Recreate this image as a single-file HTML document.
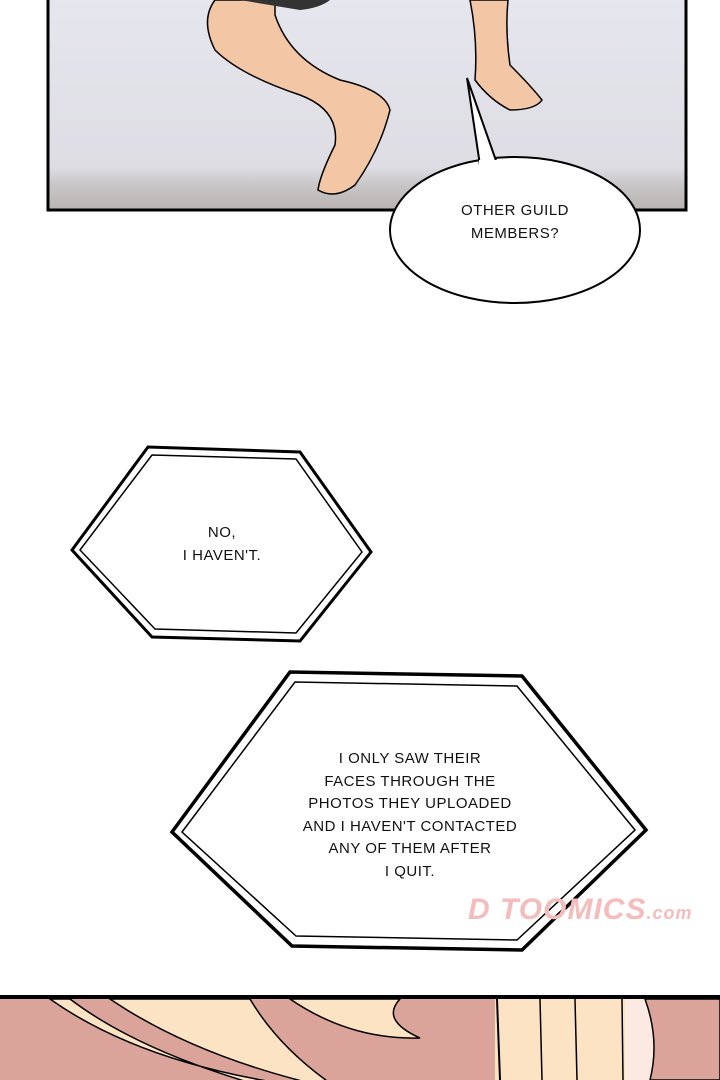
<!DOCTYPE html>
<html><head><meta charset="utf-8"><style>
html,body{margin:0;padding:0;background:#fff;}
body{width:720px;height:1080px;position:relative;overflow:hidden;font-family:"Liberation Sans",sans-serif;}
.t{position:absolute;text-align:center;font-size:15px;line-height:23px;color:#111;letter-spacing:0.5px;}
</style></head><body>
<svg width="720" height="1080" style="position:absolute;left:0;top:0">
<defs>
<linearGradient id="sheet" x1="0" y1="0" x2="0" y2="1">
<stop offset="0" stop-color="#e6e6ee"/><stop offset="0.8" stop-color="#dedde4"/><stop offset="0.88" stop-color="#c9c6c8"/><stop offset="1" stop-color="#b9b4b2"/>
</linearGradient>
</defs>
<rect x="48" y="-5" width="638" height="215" fill="url(#sheet)" stroke="#000" stroke-width="3"/>
<!-- legs -->
<path d="M215,0 Q200,20 215,50 Q240,75 300,95 Q340,110 335,145 Q320,175 318,190 Q335,200 355,185 Q380,150 390,110 Q385,90 340,80 Q290,60 275,15 L275,0 Z" fill="#f3c6a6" stroke="#000" stroke-width="1.5"/>
<path d="M470,0 Q478,40 475,80 Q490,100 510,110 Q535,110 542,100 Q530,85 510,65 Q505,30 508,0 Z" fill="#f3c6a6" stroke="#000" stroke-width="1.5"/>
<path d="M240,0 L330,0 Q320,8 300,10 Z" fill="#333"/>
<!-- speech bubble -->
<ellipse cx="515" cy="230" rx="125" ry="73" fill="#fff" stroke="#000" stroke-width="2"/>
<path d="M481,172 L467,78 L500,172 Z" fill="#fff" stroke="#000" stroke-width="2"/>
<rect x="479" y="160" width="24" height="14" fill="#fff"/>
<!-- hex 1 -->
<polygon points="72,550 148,447 300,452 371,552 300,641 152,637" fill="#fff" stroke="#000" stroke-width="3"/>
<polygon points="80,550 152,455 296,459 362,552 296,633 155,629" fill="none" stroke="#000" stroke-width="1.5"/>
<!-- hex 2 -->
<polygon points="172,832 290,672 522,676 646,830 522,950 292,946" fill="#fff" stroke="#000" stroke-width="3.5"/>
<polygon points="182,832 295,682 517,686 635,830 517,940 296,936" fill="none" stroke="#000" stroke-width="1.5"/>
<!-- bottom panel -->
<rect x="0" y="997" width="720" height="90" fill="#dba49a"/>
<path d="M50,999 Q150,1070 330,1090 L310,1099 Q150,1060 70,999 Z" fill="#fce3c3" stroke="#000" stroke-width="1.5"/>
<path d="M110,999 Q200,1060 340,1090 Q280,1050 250,999 Z" fill="#fce3c3" stroke="#000" stroke-width="1.5"/>
<path d="M290,999 Q350,1040 420,1038 Q380,1020 400,999 Z" fill="#fce3c3" stroke="#000" stroke-width="1.5"/>
<rect x="495" y="999" width="150" height="90" fill="#fce3c3"/>
<line x1="497" y1="999" x2="500" y2="1080" stroke="#000" stroke-width="2"/>
<line x1="540" y1="999" x2="542" y2="1080" stroke="#000" stroke-width="1.5"/>
<line x1="575" y1="999" x2="577" y2="1080" stroke="#000" stroke-width="1.5"/>
<line x1="622" y1="999" x2="623" y2="1080" stroke="#000" stroke-width="1.5"/>
<rect x="625" y="999" width="95" height="90" fill="#fbe9e2"/>
<path d="M645,999 Q660,1040 650,1080 L720,1080 L720,999 Z" fill="#dba49a" stroke="#000" stroke-width="1.5"/>
<line x1="0" y1="997" x2="720" y2="997" stroke="#000" stroke-width="4"/>
</svg>
<div class="t" style="left:415px;top:199px;width:200px;">OTHER GUILD<br>MEMBERS?</div>
<div class="t" style="left:122px;top:521px;width:200px;">NO,<br>I HAVEN'T.</div>
<div class="t" style="left:250px;top:748px;width:320px;line-height:22.5px;">I ONLY SAW THEIR<br>FACES THROUGH THE<br>PHOTOS THEY UPLOADED<br>AND I HAVEN'T CONTACTED<br>ANY OF THEM AFTER<br>I QUIT.</div>
<div style="position:absolute;left:468px;top:893px;width:240px;font:italic bold 30px 'Liberation Sans',sans-serif;color:#f4bcbc;letter-spacing:1px;">D TOOMICS<span style="font-size:18px">.com</span></div>
</body></html>
